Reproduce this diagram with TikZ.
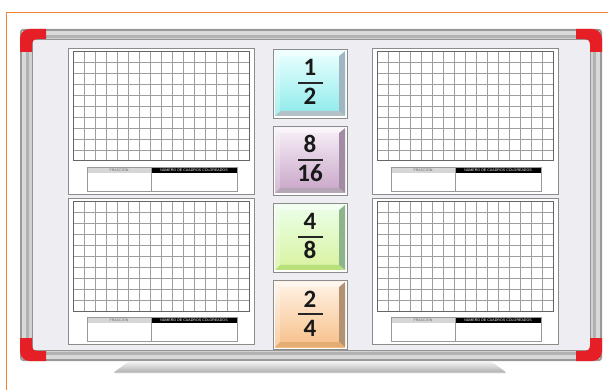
\documentclass[tikz,border=0pt]{standalone}
\usepackage{fontspec}
\setmainfont{Carlito}
\setsansfont{Liberation Sans}
\definecolor{orangeln}{HTML}{F08236}
\definecolor{cornerred}{HTML}{E61E25}
\definecolor{boardbg}{HTML}{EEEEF2}
\newcommand\mypanel[3]{%
  \fill[white, draw=black!45, line width=0.8pt] ({#2},{-#3}) rectangle ++(186,-146);
  \foreach \i in {0,...,16} \draw[gridln] ({#2+5+\i*11},{-#3-4}) -- ++(0,-109);
  \foreach \j in {0,...,10} \draw[gridln] ({#2+5},{-#3-4-\j*10.9}) -- ++(176,0);
  \draw[black!60, line width=1pt] ({#2+5},{-#3-4}) rectangle ++(176,-109);
  \fill[black!16] ({#2+19},{-#3-119}) rectangle ++(64,-6);
  \fill[black] ({#2+83},{-#3-119}) rectangle ++(86,-6);
  \draw[black!40, line width=0.7pt] ({#2+19},{-#3-119}) rectangle ++(150,-24);
  \draw[black!40, line width=0.7pt] ({#2+83},{-#3-119}) -- ++(0,-24);
  \node[hdr, text=black!60] (#1-f) at ({#2+51},{-#3-122}) {FRACCIÓN};
  \node[hdr, text=white] (#1-n) at ({#2+126},{-#3-122}) {NÚMERO DE CUADROS COLOREADOS};
}
\newcommand\mycard[8]{%
  \begin{scope}[shift={(273,-#2)}]
    \draw[black!45, line width=0.8pt, fill=white] (0,0) rectangle (74,-69);
    \shade[top color=#3, bottom color=#4] (2,-2) rectangle (72,-67);
    \fill[#5] (72,-2) -- (72,-67) -- (66,-62) -- (66,-7) -- cycle;
    \fill[#6] (2,-67) -- (72,-67) -- (66,-62) -- (7,-62) -- cycle;
    \fill[white, opacity=.4] (2,-2) -- (72,-2) -- (66,-7) -- (7,-7) -- cycle;
    \fill[white, opacity=.25] (2,-2) -- (7,-7) -- (7,-62) -- (2,-67) -- cycle;
    \node[digit, anchor=base] (#1-n) at (37,-27) {#7};
    \draw[line width=1.5pt, black!85] (25,-34) -- (50,-34);
    \node[digit, anchor=base] (#1-d) at (37,-56) {#8};
  \end{scope}}
\newcommand\redcorner{\fill[cornerred] (0,-23) -- (0,-10) .. controls (0,-4) and (4,0) .. (10,0) -- (26,0) -- (26,-10) -- (18,-10) .. controls (14,-10) and (12,-12) .. (12,-16) -- (12,-23) -- cycle;}
\begin{document}
\begin{tikzpicture}[x=1pt,y=1pt,
  gridln/.style={draw=black!38, line width=1pt},
  hdr/.style={font=\sffamily\fontsize{3.6}{4}\selectfont, inner sep=0pt},
  digit/.style={font=\bfseries\fontsize{25}{25}\selectfont, inner sep=0pt, text=black!90}]
\useasboundingbox (0,0) rectangle (608,-390);
\fill[white] (0,0) rectangle (608,-390);
\draw[orangeln, line width=1.6pt] (6.5,-391) -- (6.5,-12.5) -- (609,-12.5);
% tray
\shade[top color=black!6, bottom color=black!32, rounded corners=2.5] (113,-373) -- (128,-362) -- (492,-362) -- (507,-373) -- cycle;
\fill[black!22] (114,-373) rectangle (506,-371.8);
% frame
\fill[black!40, rounded corners=3] (20,-29) rectangle (602,-361);
\fill[black!15] (22,-31) rectangle (600,-359);
\fill[black!30] (26,-35) rectangle (596,-355);
\fill[black!18] (29,-38) rectangle (593,-352);
\fill[black!42] (32,-39.5) rectangle (590.5,-350.5);
\fill[boardbg] (33,-40.5) rectangle (589.5,-349.5);
% red corners
\begin{scope}[shift={(20,-29)}]\redcorner\end{scope}
\begin{scope}[shift={(602,-29)}, xscale=-1]\redcorner\end{scope}
\begin{scope}[shift={(20,-361)}, yscale=-1]\redcorner\end{scope}
\begin{scope}[shift={(602,-361)}, xscale=-1, yscale=-1]\redcorner\end{scope}
% panels
\mypanel{pa}{68}{48}
\mypanel{pb}{68}{198}
\mypanel{pc}{372}{48}
\mypanel{pd}{372}{198}
% cards
\mycard{ca}{49}{cyan!8!white}{cyan!40!white!92!black}{cyan!40!black!45!white}{cyan!30!black!35!white}{1}{2}
\mycard{cb}{126}{violet!6!white}{violet!30!white!92!black}{violet!40!black!45!white}{violet!35!black!35!white}{8}{16}
\mycard{cc}{203}{green!8!white}{green!30!yellow!35!white!95!black}{green!35!black!45!white}{green!40!yellow!45!white!88!black}{4}{8}
\mycard{cd}{280}{orange!10!white}{orange!45!white!97!black}{orange!45!black!55!white}{orange!50!white!90!black}{2}{4}
\end{tikzpicture}
\end{document}
